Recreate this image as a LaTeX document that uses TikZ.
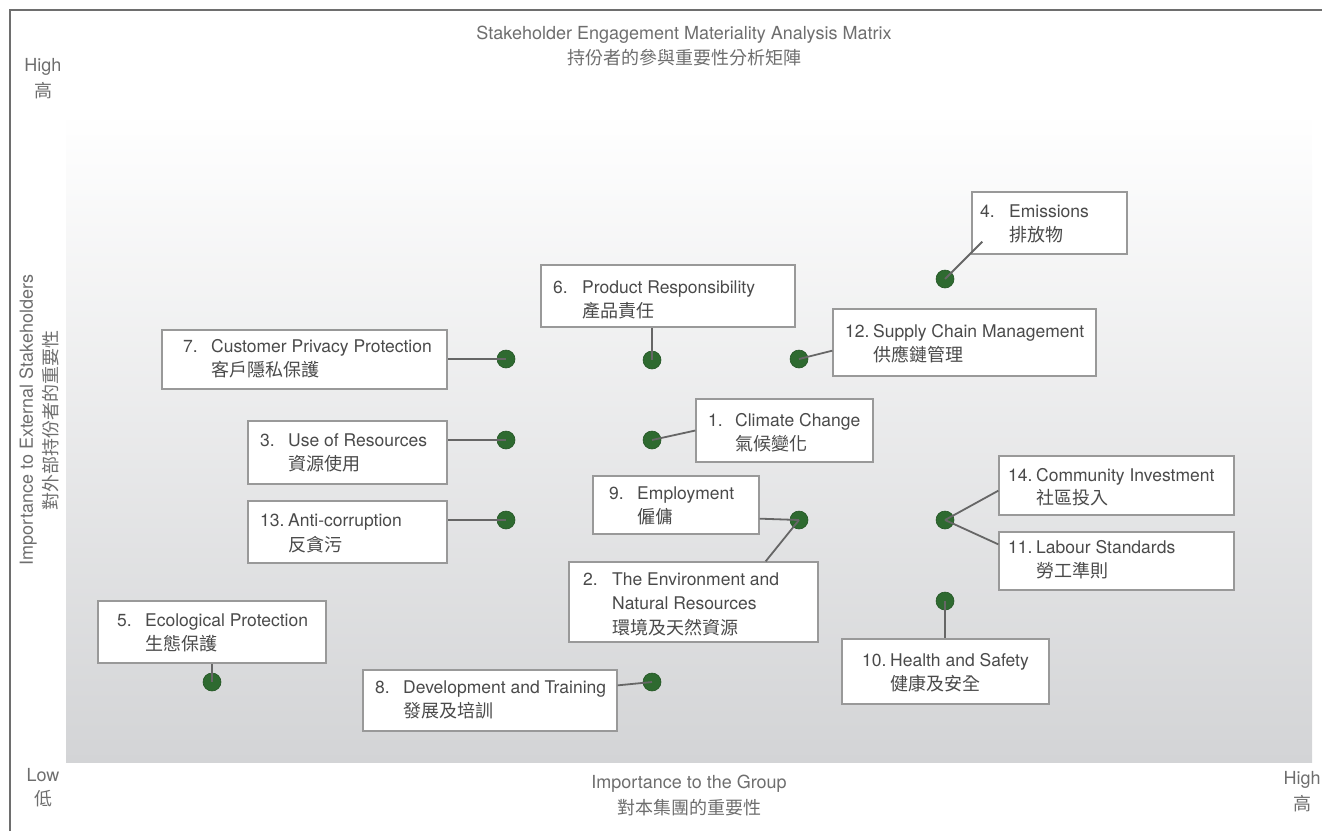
\documentclass[tikz,border=0pt]{standalone}
\usepackage{fontspec}
\setmainfont{TeX Gyre Heros}
\newfontfamily\cjk{Noto Sans CJK TC}
\usetikzlibrary{calc}
\definecolor{txt}{HTML}{4A4A4A}
\definecolor{axt}{HTML}{6E6E6E}
\definecolor{bord}{HTML}{999999}
\definecolor{dotg}{HTML}{2E6A30}
\definecolor{conc}{HTML}{666666}
\definecolor{bot}{HTML}{D3D4D6}
\tikzset{
  box/.style={draw=bord, line width=1.3pt, fill=white, rectangle, inner sep=0pt},
  lbl/.style={anchor=base west, inner sep=0pt, text=txt, font=\fontsize{17.5}{19}\selectfont},
  clbl/.style={anchor=base west, inner sep=0pt, text=txt, font=\cjk\fontsize{18}{19}\selectfont},
  axl/.style={inner sep=0pt, text=axt, font=\fontsize{18}{19}\selectfont},
  caxl/.style={inner sep=0pt, text=axt, font=\cjk\fontsize{18}{19}\selectfont},
  dot/.style={circle, fill=dotg, draw=dotg!80!black, line width=0.6pt, minimum size=18pt, inner sep=0pt},
  conn/.style={draw=conc, line width=1.8pt}
}
\newcommand\matbox[5]{\node[box, minimum width={#4-#2}, minimum height={#5-#3}] (#1) at ({(#2+#4)/2},{(#3+#5)/2}) {};}
\newcommand\mattwo[6]{% numx textx y1 y2 num text
  \node[lbl] at (#1,#3+6) {#5};
  \node[lbl] at (#2,#3+6) {#6};}
\begin{document}
\begin{tikzpicture}[x=1pt,y=-1pt]
\useasboundingbox (0,0) rectangle (1322,831);
% frame
\draw[draw=axt, line width=1.5pt] (10,831) -- (10,10) -- (1322,10);
% plot area
\shade[top color=white, bottom color=bot] (66,112) rectangle (1312,762);
% titles and axes
\node[axl] (t1) at (684,35) {Stakeholder Engagement Materiality Analysis Matrix};
\node[caxl] (t2) at (684,58) {持份者的參與重要性分析矩陣};
\node[axl] (hi1) at (43,67) {High};
\node[caxl] (hi2) at (43,91) {高};
\node[axl] (lo1) at (43,775) {Low};
\node[caxl] (lo2) at (43,799) {低};
\node[axl] (hx1) at (1302,780) {High};
\node[caxl] (hx2) at (1302,804) {高};
\node[axl] (gx1) at (689,784) {Importance to the Group};
\node[caxl] (gx2) at (689,808) {對本集團的重要性};
\node[axl, rotate=90] (ey1) at (28,420) {Importance to External Stakeholders};
\node[caxl, rotate=90] (ey2) at (51,420) {對外部持份者的重要性};
% boxes
\matbox{b4}{972}{192}{1127}{254}
\matbox{b6}{541}{265}{795}{327}
\matbox{b12}{833}{309}{1096}{376}
\matbox{b7}{162}{330}{447}{389}
\matbox{b1}{696}{399}{873}{462}
\matbox{b3}{248}{421}{447}{484}
\matbox{b14}{999}{456}{1234}{515}
\matbox{b9}{593}{476}{759}{534}
\matbox{b13}{248}{501}{447}{563}
\matbox{b11}{999}{532}{1234}{590}
\matbox{b2}{569}{562}{818}{642}
\matbox{b5}{98}{601}{326}{663}
\matbox{b10}{842}{639}{1049}{704}
\matbox{b8}{363}{670}{617}{731}
% labels
\mattwo{980}{1009}{211}{}{4.}{Emissions}
\node[clbl] at (1009,241) {排放物};
\mattwo{553}{582}{287}{}{6.}{Product Responsibility}
\node[clbl] at (582,317) {產品責任};
\mattwo{845}{873}{331}{}{12.}{Supply Chain Management}
\node[clbl] at (873,361) {供應鏈管理};
\mattwo{183}{211}{346}{}{7.}{Customer Privacy Protection}
\node[clbl] at (211,376) {客戶隱私保護};
\mattwo{708}{735}{420}{}{1.}{Climate Change}
\node[clbl] at (735,450) {氣候變化};
\mattwo{260}{288}{440}{}{3.}{Use of Resources}
\node[clbl] at (288,470) {資源使用};
\mattwo{1008}{1036}{475}{}{14.}{Community Investment}
\node[clbl] at (1036,504) {社區投入};
\mattwo{609}{637}{493}{}{9.}{Employment}
\node[clbl] at (637,523) {僱傭};
\mattwo{260}{288}{520}{}{13.}{Anti-corruption}
\node[clbl] at (288,551) {反貪污};
\mattwo{1008}{1036}{547}{}{11.}{Labour Standards}
\node[clbl] at (1036,577) {勞工準則};
\mattwo{583}{612}{579}{}{2.}{The Environment and}
\node[lbl] at (612,609) {Natural Resources};
\node[clbl] at (612,634) {環境及天然資源};
\mattwo{117}{145}{620}{}{5.}{Ecological Protection}
\node[clbl] at (145,650) {生態保護};
\mattwo{862}{890}{660}{}{10.}{Health and Safety}
\node[clbl] at (890,690) {健康及安全};
\mattwo{375}{403}{687}{}{8.}{Development and Training}
\node[clbl] at (403,717) {發展及培訓};
% dots
\node[dot] (d4) at (945,279) {};
\node[dot] (d6) at (652,360) {};
\node[dot] (d12) at (799,359) {};
\node[dot] (d7) at (506,359) {};
\node[dot] (d1) at (652,440) {};
\node[dot] (d3) at (506,440) {};
\node[dot] (d13) at (506,520) {};
\node[dot] (d9) at (799,520) {};
\node[dot] (d14) at (945,520) {};
\node[dot] (d10) at (945,601) {};
\node[dot] (d5) at (212,682) {};
\node[dot] (d8) at (652,682) {};
% connectors
\draw[conn] (d4.center) -- ($(b4.south west)+(11,-13)$);
\draw[conn] (d6.center) -- (d6 |- b6.south);
\draw[conn] (d12.center) -- ($(b12.south west)+(0,-26)$);
\draw[conn] (d7.center) -- (d7 -| b7.east);
\draw[conn] (d1.center) -- (b1.west);
\draw[conn] (d3.center) -- (d3 -| b3.east);
\draw[conn] (d13.center) -- (d13 -| b13.east);
\draw[conn] (d9.center) -- ($(b9.south east)+(0,-16)$);
\draw[conn] (d9.center) -- ($(b2.north east)+(-53,0)$);
\draw[conn] (d14.center) -- ($(b14.south west)+(0,-25)$);
\draw[conn] (d14.center) -- ($(b11.north west)+(0,13)$);
\draw[conn] (d10.center) -- (d10 |- b10.north);
\draw[conn] (d5.center) -- (d5 |- b5.south);
\draw[conn] (d8.center) -- ($(b8.north east)+(0,16)$);
\end{tikzpicture}
\end{document}
